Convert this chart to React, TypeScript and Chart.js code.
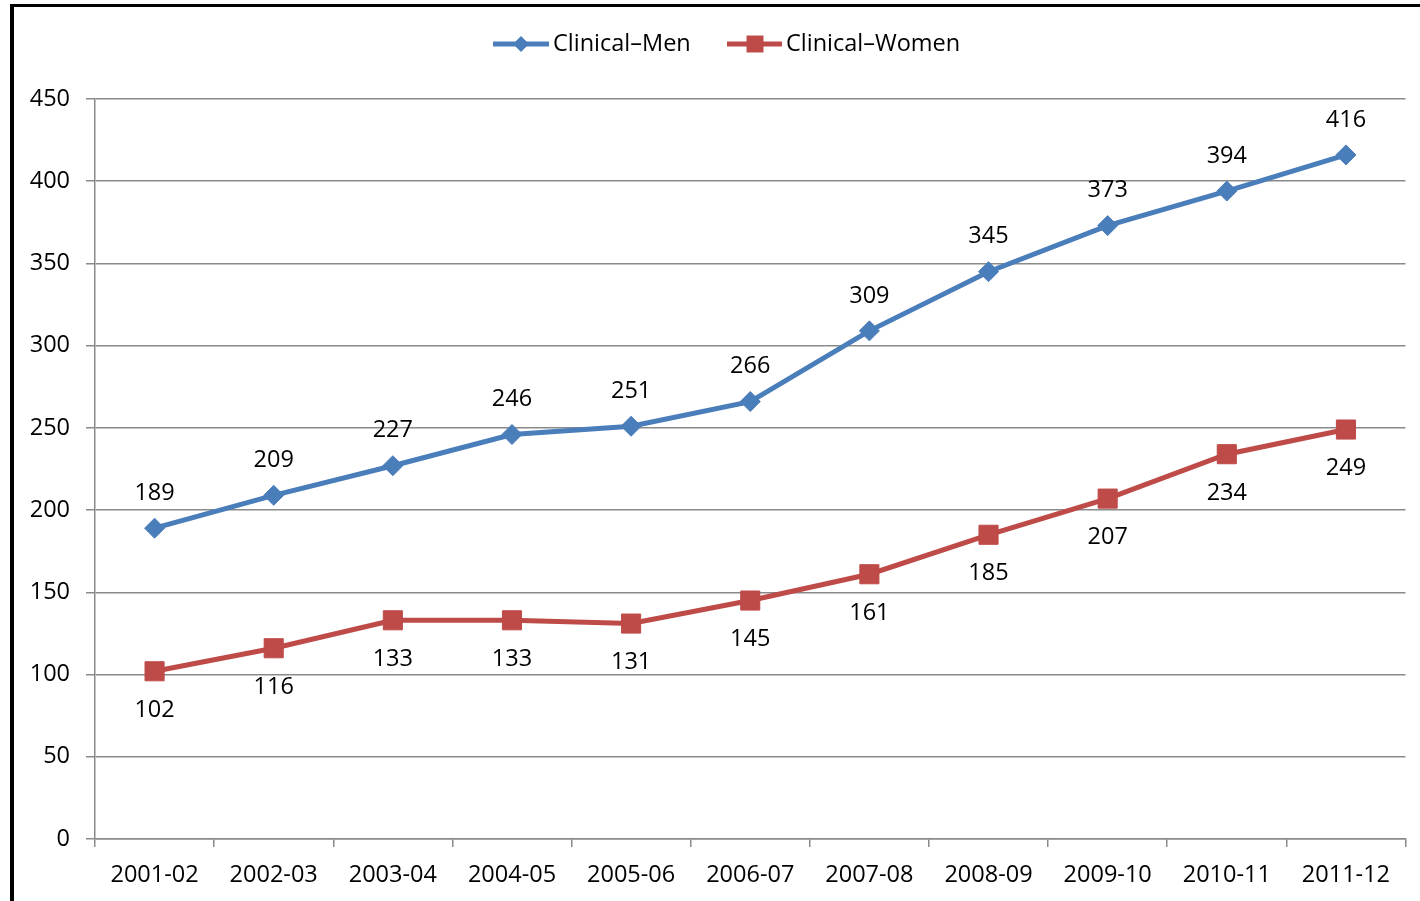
import React, { useEffect, useRef } from "react";
import { Chart, registerables } from "chart.js";

Chart.register(...registerables);

const categories = [
  "2001-02", "2002-03", "2003-04", "2004-05", "2005-06", "2006-07",
  "2007-08", "2008-09", "2009-10", "2010-11", "2011-12",
];
const menValues = [189, 209, 227, 246, 251, 266, 309, 345, 373, 394, 416];
const womenValues = [102, 116, 133, 133, 131, 145, 161, 185, 207, 234, 249];
const seriesNames = ["Clinical\u2013Men", "Clinical\u2013Women"];
const yMin = 0;
const yMax = 450;
const yStep = 50;

const BLUE = "#4a7ebb";
const RED = "#be4b48";
const GRID = "#8a8a8a";
const FONT = "'Open Sans', sans-serif";
const FS = 23.5;

const framePlugin = {
  id: "frame",
  beforeDraw(chart: any) {
    const ctx = chart.ctx;
    ctx.save();
    ctx.fillStyle = "#fff";
    ctx.fillRect(0, 0, chart.width, chart.height);
    ctx.restore();
  },
  afterDraw(chart: any) {
    const ctx = chart.ctx;
    ctx.save();
    ctx.fillStyle = "#000";
    ctx.fillRect(10, 4, chart.width - 10, 3);
    ctx.fillRect(10, 4, 4, chart.height - 4);

    // data labels
    ctx.font = `${FS}px ${FONT}`;
    ctx.fillStyle = "#000";
    ctx.textAlign = "center";
    ctx.textBaseline = "middle";
    chart.data.datasets.forEach((ds: any, di: number) => {
      const meta = chart.getDatasetMeta(di);
      meta.data.forEach((pt: any, i: number) => {
        const off = di === 0 ? -35 : 39;
        ctx.fillText(String(ds.data[i]), pt.x, pt.y + off);
      });
    });

    // legend
    const items = [
      { x0: 493, x1: 549, cx: 521, tx: 553, color: BLUE, style: "rectRot", r: 8, label: seriesNames[0] },
      { x0: 727, x1: 782, cx: 755, tx: 786, color: RED, style: "rect", r: 12, label: seriesNames[1] },
    ];
    const ly = 44;
    items.forEach((it) => {
      ctx.strokeStyle = it.color;
      ctx.lineWidth = 5;
      ctx.beginPath();
      ctx.moveTo(it.x0, ly);
      ctx.lineTo(it.x1, ly);
      ctx.stroke();
      ctx.fillStyle = it.color;
      ctx.beginPath();
      if (it.style === "rectRot") {
        ctx.moveTo(it.cx, ly - it.r);
        ctx.lineTo(it.cx + it.r, ly);
        ctx.lineTo(it.cx, ly + it.r);
        ctx.lineTo(it.cx - it.r, ly);
        ctx.closePath();
      } else {
        const s = it.r * Math.SQRT1_2;
        ctx.rect(it.cx - s, ly - s, 2 * s, 2 * s);
      }
      ctx.fill();
      ctx.fillStyle = "#000";
      ctx.font = `${FS}px ${FONT}`;
      ctx.textAlign = "left";
      ctx.textBaseline = "middle";
      ctx.fillText(it.label, it.tx, ly);
    });
    ctx.restore();
  },
};

export default function App() {
  const ref = useRef<HTMLCanvasElement | null>(null);

  useEffect(() => {
    document.body.style.margin = "0";
    const canvas = ref.current;
    if (!canvas) return;
    const chart = new Chart(canvas, {
      type: "line",
      data: {
        labels: categories,
        datasets: [
          {
            label: seriesNames[0],
            data: menValues,
            borderColor: BLUE,
            backgroundColor: BLUE,
            borderWidth: 5,
            pointStyle: "rectRot",
            pointRadius: 10,
            pointBorderWidth: 1,
            tension: 0,
          },
          {
            label: seriesNames[1],
            data: womenValues,
            borderColor: RED,
            backgroundColor: RED,
            borderWidth: 5,
            pointStyle: "rect",
            pointRadius: 13.5,
            pointBorderWidth: 1,
            tension: 0,
          },
        ],
      },
      options: {
        responsive: false,
        animation: false,
        devicePixelRatio: 1,
        layout: { padding: { left: 0, right: 13, top: 99, bottom: 0 } },
        plugins: {
          legend: { display: false },
          tooltip: { enabled: false },
        },
        scales: {
          x: {
            offset: true,
            grid: {
              display: true,
              offset: true,
              drawOnChartArea: false,
              drawTicks: true,
              tickLength: 8,
              color: GRID,
              lineWidth: 1.5,
            },
            border: { display: true, color: GRID, width: 1.5 },
            ticks: {
              color: "#000",
              font: { family: FONT, size: FS },
              padding: 14,
              maxRotation: 0,
              autoSkip: false,
            },
            afterFit(scale: any) {
              scale.height = 62;
            },
          },
          y: {
            min: yMin,
            max: yMax,
            grid: {
              display: true,
              drawOnChartArea: true,
              drawTicks: true,
              tickLength: 9,
              color: GRID,
              lineWidth: 1.5,
            },
            border: { display: true, color: GRID, width: 1.5 },
            ticks: {
              stepSize: yStep,
              color: "#000",
              font: { family: FONT, size: FS },
              padding: 16,
            },
            afterFit(scale: any) {
              scale.width = 95;
            },
          },
        },
      },
      plugins: [framePlugin],
    });
    return () => chart.destroy();
  }, []);

  return (
    <div style={{ width: 1420, height: 901 }}>
      <canvas ref={ref} width={1420} height={901} style={{ display: "block" }} />
    </div>
  );
}
